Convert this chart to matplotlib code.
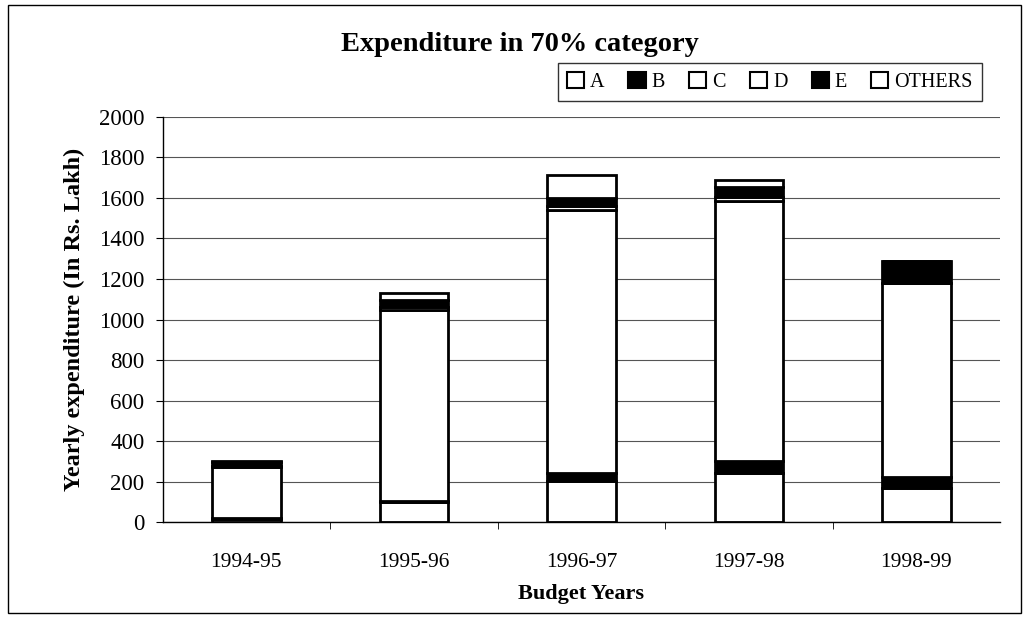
import matplotlib.pyplot as plt
import matplotlib.patches as mpatches
import numpy as np

plt.rcParams['font.family'] = ['Liberation Serif', 'DejaVu Serif']

years = ['1994-95', '1995-96', '1996-97', '1997-98', '1998-99']
A = [15, 100, 205, 242, 168]
B = [8, 5, 40, 58, 54]
C = [250, 940, 1295, 1285, 958]
D = [5, 15, 20, 20, 0]
E = [18, 35, 40, 50, 110]
OTHERS = [4, 35, 115, 35, 0]

series = [('A', A, 'white'), ('B', B, 'black'), ('C', C, 'white'),
          ('D', D, 'white'), ('E', E, 'black'), ('OTHERS', OTHERS, 'white')]

fig = plt.figure(figsize=(10.29, 6.18), dpi=100)
ax = fig.add_axes([0.158, 0.155, 0.814, 0.656])

x = np.arange(len(years))
bottom = np.zeros(len(years))
handles = []
for name, vals, col in series:
    ax.bar(x, vals, width=0.41, bottom=bottom, color=col, edgecolor='black', linewidth=2)
    bottom += np.array(vals)
    handles.append(mpatches.Patch(facecolor=col, edgecolor='black', linewidth=1.5, label=name))

ax.set_ylim(0, 2000)
ax.set_xlim(-0.5, len(years) - 0.5)
ax.set_yticks(range(0, 2001, 200))
ax.set_xticks(x)
ax.set_xticklabels(years)
ax.set_xticks(np.arange(0.5, len(years) - 1, 1.0), minor=True)
ax.tick_params(axis='x', which='major', length=0, labelsize=15.5, pad=22)
ax.tick_params(axis='x', which='minor', length=5, direction='out')
ax.tick_params(axis='y', labelsize=16.5, length=5, direction='out', pad=8)
ax.yaxis.grid(True, color='#555555', linewidth=0.8)
ax.set_axisbelow(True)
for s in ['top', 'right']:
    ax.spines[s].set_visible(False)
ax.spines['left'].set_linewidth(1)
ax.spines['bottom'].set_linewidth(1)

ax.set_xlabel('Budget Years', fontsize=16, fontweight='bold', labelpad=9)
ax.set_ylabel('Yearly expenditure (In Rs. Lakh)', fontsize=17.5, fontweight='bold', labelpad=10)
fig.text(0.505, 0.928, 'Expenditure in 70% category', fontsize=20.5, fontweight='bold',
         ha='center', va='center')

leg = fig.legend(handles=handles, ncol=6, loc='center', bbox_to_anchor=(0.748, 0.868),
                 fontsize=14.5, frameon=True, fancybox=False, edgecolor='black',
                 handlelength=0.85, handleheight=0.85, handletextpad=0.3,
                 columnspacing=1.2, borderpad=0.45)
leg.get_frame().set_linewidth(1)

fig.patches.append(mpatches.Rectangle((0.008, 0.008), 0.984, 0.984, transform=fig.transFigure,
                                      fill=False, edgecolor='black', linewidth=1))

fig.savefig('out.png', dpi=100)
